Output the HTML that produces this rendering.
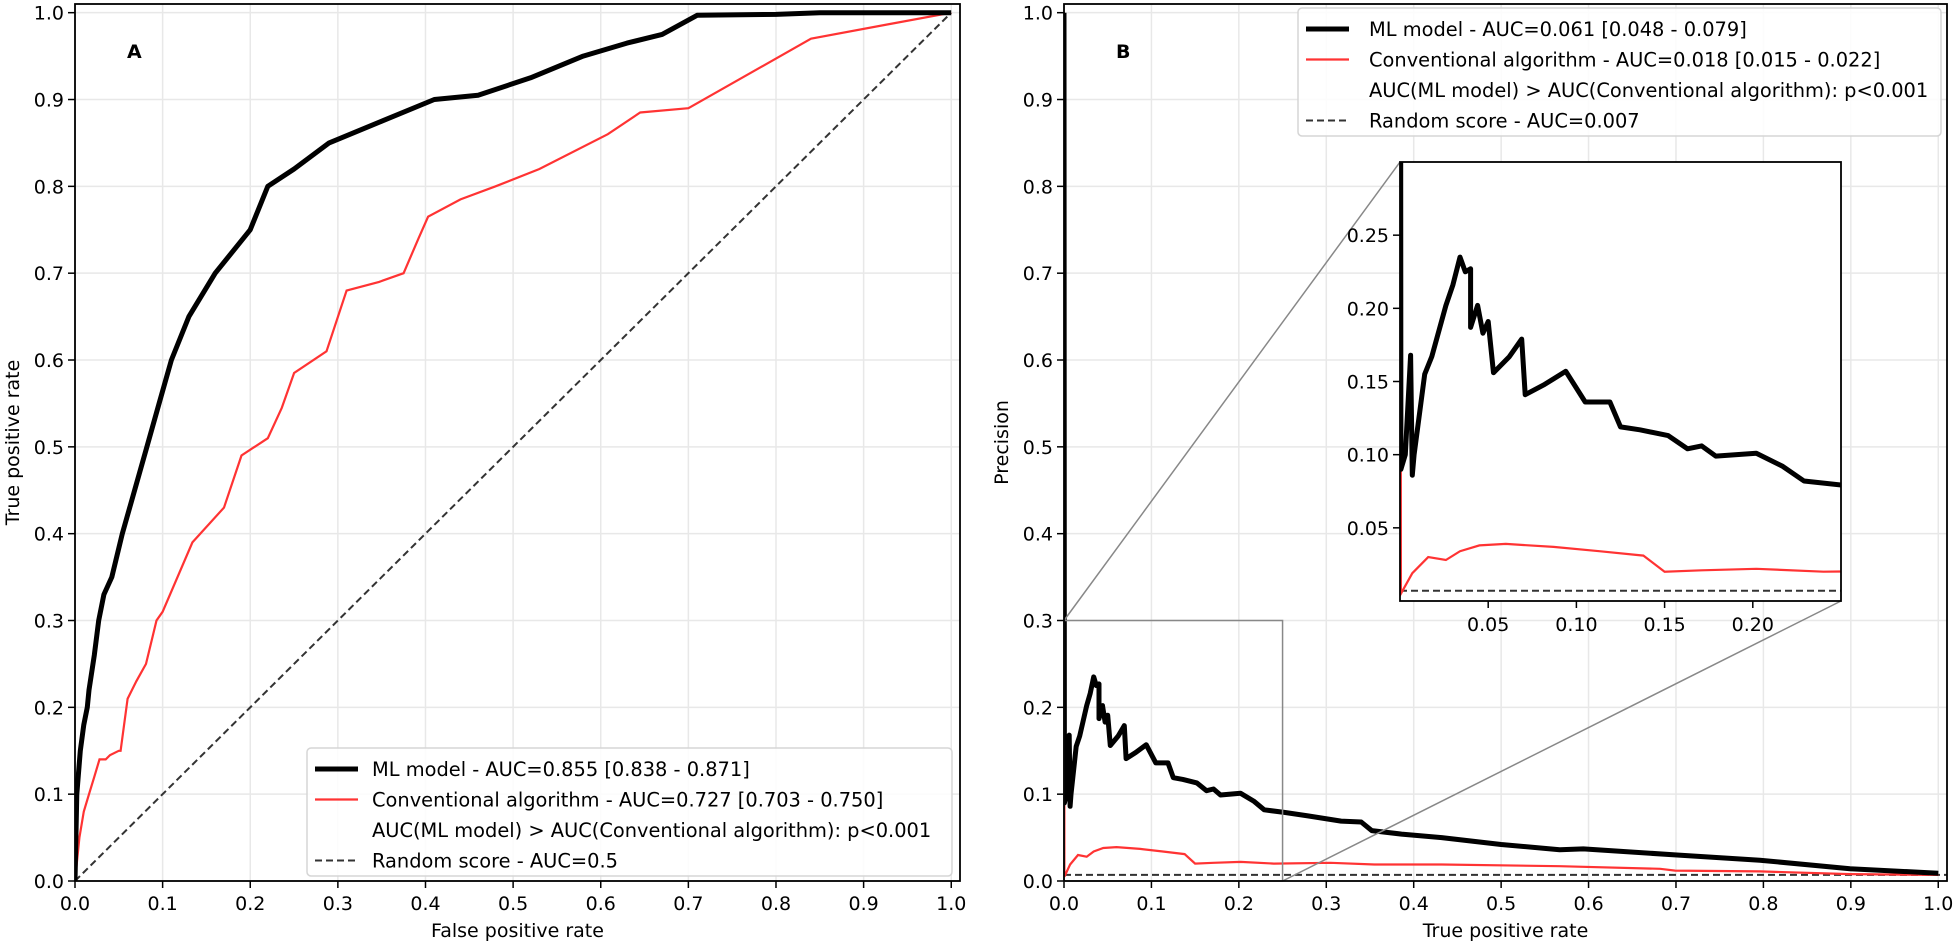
<!DOCTYPE html>
<html><head><meta charset="utf-8"><style>
html,body{margin:0;padding:0;background:#fff;}
svg{display:block;font-family:"DejaVu Sans","Liberation Sans",sans-serif;}
</style></head><body>
<svg id="fig" width="1955" height="945" viewBox="0 0 1955 945" xmlns="http://www.w3.org/2000/svg">
<defs>
<clipPath id="clipL"><rect x="75" y="4" width="885" height="877"/></clipPath>
<clipPath id="clipR"><rect x="1064" y="4" width="883" height="877"/></clipPath>
<clipPath id="clipI"><rect x="1400" y="162" width="441" height="439"/></clipPath>
</defs>
<g id="root"></g>
</svg>
<script>
// ROC data
const rocMlFpr = [0,0.001,0.002,0.006,0.010,0.014,0.016,0.022,0.027,0.033,0.042,0.054,0.068,0.082,0.096,0.11,0.13,0.16,0.20,0.22,0.25,0.29,0.35,0.41,0.46,0.52,0.58,0.63,0.67,0.71,0.80,0.85,1.0];
const rocMlTpr = [0,0.05,0.10,0.15,0.18,0.20,0.22,0.26,0.30,0.33,0.35,0.40,0.45,0.50,0.55,0.60,0.65,0.70,0.75,0.80,0.82,0.85,0.875,0.90,0.905,0.925,0.95,0.965,0.975,0.997,0.998,1.0,1.0];
const rocCaFpr = [0,0.005,0.010,0.016,0.022,0.028,0.035,0.040,0.050,0.052,0.060,0.070,0.081,0.093,0.100,0.134,0.17,0.19,0.22,0.236,0.25,0.287,0.31,0.347,0.375,0.392,0.403,0.44,0.48,0.53,0.608,0.645,0.70,0.84,0.93,1.0];
const rocCaTpr = [0,0.05,0.08,0.10,0.12,0.14,0.14,0.145,0.15,0.15,0.21,0.23,0.25,0.30,0.31,0.39,0.43,0.49,0.51,0.545,0.585,0.61,0.68,0.69,0.70,0.74,0.765,0.785,0.80,0.82,0.86,0.885,0.89,0.97,0.987,1.0];
// PR data
const prMlRecall = [0,0.0005,0.003,0.006,0.007,0.008,0.014,0.018,0.026,0.030,0.034,0.037,0.040,0.040,0.044,0.047,0.050,0.053,0.062,0.069,0.071,0.082,0.094,0.105,0.119,0.125,0.136,0.152,0.163,0.171,0.179,0.202,0.217,0.229,0.252,0.279,0.317,0.340,0.352,0.386,0.432,0.50,0.567,0.594,0.701,0.796,0.899,1.0];
const prMlPrecision = [1.0,0.09,0.10,0.168,0.086,0.10,0.155,0.167,0.202,0.216,0.235,0.225,0.227,0.187,0.202,0.183,0.191,0.156,0.167,0.179,0.141,0.148,0.157,0.136,0.136,0.119,0.117,0.113,0.104,0.106,0.099,0.101,0.092,0.082,0.079,0.075,0.069,0.068,0.058,0.054,0.050,0.042,0.036,0.037,0.030,0.024,0.014,0.009];
const prCaRecall = [0,0.0005,0.007,0.016,0.026,0.034,0.045,0.060,0.087,0.113,0.138,0.150,0.171,0.202,0.240,0.305,0.355,0.432,0.567,0.682,0.699,0.796,0.899,1.0];
const prCaPrecision = [1.0,0.005,0.019,0.030,0.028,0.034,0.038,0.039,0.037,0.034,0.031,0.020,0.021,0.022,0.020,0.021,0.019,0.019,0.017,0.014,0.012,0.011,0.008,0.007];
const baselinePR = 0.007;
const tickVals = [0,0.1,0.2,0.3,0.4,0.5,0.6,0.7,0.8,0.9,1.0];
const tickLabels = ["0.0","0.1","0.2","0.3","0.4","0.5","0.6","0.7","0.8","0.9","1.0"];
const insetXTicks = [0.05,0.10,0.15,0.20];
const insetXLabels = ["0.05","0.10","0.15","0.20"];
const insetYTicks = [0.05,0.10,0.15,0.20,0.25];
const insetYLabels = ["0.05","0.10","0.15","0.20","0.25"];

const NS="http://www.w3.org/2000/svg";
const root=document.getElementById('root');
function mk(tag,attrs,parent){const e=document.createElementNS(NS,tag);for(const k in attrs)e.setAttribute(k,attrs[k]);(parent||root).appendChild(e);return e;}
function axis(x0,x1,y0,y1,xmin,xmax,ymin,ymax){return {x:v=>x0+(v-xmin)/(xmax-xmin)*(x1-x0),y:v=>y0-(v-ymin)/(ymax-ymin)*(y0-y1),x0,x1,y0,y1};}
const A=axis(75,960,881,4,0,1.01,0,1.01);
const B=axis(1064,1947,881,4,0,1.01,0,1.01);
const I=axis(1400,1841,601,162,0,0.25,0,0.3);
function pts(ax,xs,ys){return xs.map((v,i)=>ax.x(v).toFixed(1)+','+ax.y(ys[i]).toFixed(1)).join(' ');}

function panel(ax,name,xlabel,ylabel,letter,lx){
  const g=mk('g',{});
  
  
  tickVals.forEach((v,i)=>{
    const gx=mk('line',{x1:ax.x(v),x2:ax.x(v),y1:ax.y1,y2:ax.y0,stroke:'#e8e8e8','stroke-width':1.5},g);
    
    
    const gy=mk('line',{x1:ax.x0,x2:ax.x1,y1:ax.y(v),y2:ax.y(v),stroke:'#e8e8e8','stroke-width':1.5},g);
    
    
    mk('line',{x1:ax.x(v),x2:ax.x(v),y1:ax.y0,y2:ax.y0+7,stroke:'#000','stroke-width':1.5},g);
    mk('line',{x1:ax.x0-7,x2:ax.x0,y1:ax.y(v),y2:ax.y(v),stroke:'#000','stroke-width':1.5},g);
    const tx=mk('text',{x:ax.x(v),y:ax.y0+29,'font-size':19,'text-anchor':'middle'},g);tx.textContent=tickLabels[i];
    
    
    const ty=mk('text',{x:ax.x0-11,y:ax.y(v)+7,'font-size':19,'text-anchor':'end'},g);ty.textContent=tickLabels[i];
    
    
  });
  const xl=mk('text',{x:(ax.x0+ax.x1)/2,y:937,'font-size':19,'text-anchor':'middle'},g);xl.textContent=xlabel;
  
  
  const yx=lx, yy=(ax.y0+ax.y1)/2;
  const yl=mk('text',{x:yx,y:yy,'font-size':19,'text-anchor':'middle',transform:`rotate(-90 ${yx} ${yy})`},g);yl.textContent=ylabel;
  
  
  const lt=mk('text',{x:ax.x0+52,y:58,'font-size':19,'font-weight':'bold'},g);lt.textContent=letter;
  
  
  return g;
}
panel(A,'roc-panel','False positive rate','True positive rate','A',19);
panel(B,'pr-panel','True positive rate','Precision','B',1008);

// ROC series
let s=mk('polyline',{points:pts(A,[0,1],[0,1]),fill:'none',stroke:'#333','stroke-width':2,'stroke-dasharray':'7,4','clip-path':'url(#clipL)'});


s=mk('polyline',{points:pts(A,rocCaFpr,rocCaTpr),fill:'none',stroke:'#ff3333','stroke-width':2.2,'clip-path':'url(#clipL)'});


s=mk('polyline',{points:pts(A,rocMlFpr,rocMlTpr),fill:'none',stroke:'#000','stroke-width':5,'stroke-linejoin':'round','clip-path':'url(#clipL)'});



// PR series
function prSeries(ax,clip,suffix){
  let e=mk('polyline',{points:pts(ax,[0,1.01],[baselinePR,baselinePR]),fill:'none',stroke:'#333','stroke-width':2,'stroke-dasharray':'7,4','clip-path':clip});
  
  
  e=mk('polyline',{points:pts(ax,prCaRecall,prCaPrecision),fill:'none',stroke:'#ff3333','stroke-width':2.2,'clip-path':clip});
  
  
  e=mk('polyline',{points:pts(ax,prMlRecall,prMlPrecision),fill:'none',stroke:'#000','stroke-width':5,'stroke-linejoin':'round','clip-path':clip});
  
  
}
prSeries(B,'url(#clipR)','');

// zoom box + connectors
s=mk('rect',{x:B.x(0),y:B.y(0.3),width:B.x(0.25)-B.x(0),height:B.y(0)-B.y(0.3),fill:'none',stroke:'#888','stroke-width':1.5});


s=mk('line',{x1:B.x(0),y1:B.y(0.3),x2:I.x0,y2:I.y1,stroke:'#888','stroke-width':1.5});


s=mk('line',{x1:B.x(0.25),y1:B.y(0),x2:I.x1,y2:I.y0,stroke:'#888','stroke-width':1.5});



// inset
s=mk('rect',{x:I.x0,y:I.y1,width:I.x1-I.x0,height:I.y0-I.y1,fill:'#fff'});


prSeries(I,'url(#clipI)','-inset');
insetXTicks.forEach((v,i)=>{
  mk('line',{x1:I.x(v),x2:I.x(v),y1:I.y0,y2:I.y0+7,stroke:'#000','stroke-width':1.5});
  const t=mk('text',{x:I.x(v),y:I.y0+30,'font-size':19,'text-anchor':'middle'});t.textContent=insetXLabels[i];
  
  
});
insetYTicks.forEach((v,i)=>{
  mk('line',{x1:I.x0-7,x2:I.x0,y1:I.y(v),y2:I.y(v),stroke:'#000','stroke-width':1.5});
  const t=mk('text',{x:I.x0-11,y:I.y(v)+7,'font-size':19,'text-anchor':'end'});t.textContent=insetYLabels[i];
  
  
});
s=mk('rect',{x:I.x0,y:I.y1,width:I.x1-I.x0,height:I.y0-I.y1,fill:'none',stroke:'#000','stroke-width':1.8});



// spines
[A,B].forEach(ax=>{
  const r=mk('rect',{x:ax.x0,y:ax.y1,width:ax.x1-ax.x0,height:ax.y0-ax.y1,fill:'none',stroke:'#000','stroke-width':1.8});
  
  
});

// legends
function legend(x,y,w,h,rows,textX,hx0,hx1,name){
  const g=mk('g',{});
  
  
  mk('rect',{x:x,y:y,width:w,height:h,rx:4,fill:'#fff','fill-opacity':0.85,stroke:'#d5d5d5','stroke-width':1.5},g);
  rows.forEach((r,i)=>{
    const cy=y+21+i*30.5;
    if(r.stroke){const l=mk('line',{x1:hx0,x2:hx1,y1:cy,y2:cy,stroke:r.stroke,'stroke-width':r.w,'stroke-dasharray':r.dash||'none'},g);
      
      }
    const t=mk('text',{x:textX,y:cy+7,'font-size':19.4},g);t.textContent=r.t;
    
    
  });
}
legend(307,748,645,128,[
 {t:'ML model - AUC=0.855 [0.838 - 0.871]',stroke:'#000',w:5},
 {t:'Conventional algorithm - AUC=0.727 [0.703 - 0.750]',stroke:'#ff3333',w:2.2},
 {t:'AUC(ML model) > AUC(Conventional algorithm): p<0.001'},
 {t:'Random score - AUC=0.5',stroke:'#333',w:2,dash:'7,4'}],372,315,358,'roc-legend');
legend(1298,8,643,128,[
 {t:'ML model - AUC=0.061 [0.048 - 0.079]',stroke:'#000',w:5},
 {t:'Conventional algorithm - AUC=0.018 [0.015 - 0.022]',stroke:'#ff3333',w:2.2},
 {t:'AUC(ML model) > AUC(Conventional algorithm): p<0.001'},
 {t:'Random score - AUC=0.007',stroke:'#333',w:2,dash:'7,4'}],1369,1306,1349,'pr-legend');
</script>
</body></html>
